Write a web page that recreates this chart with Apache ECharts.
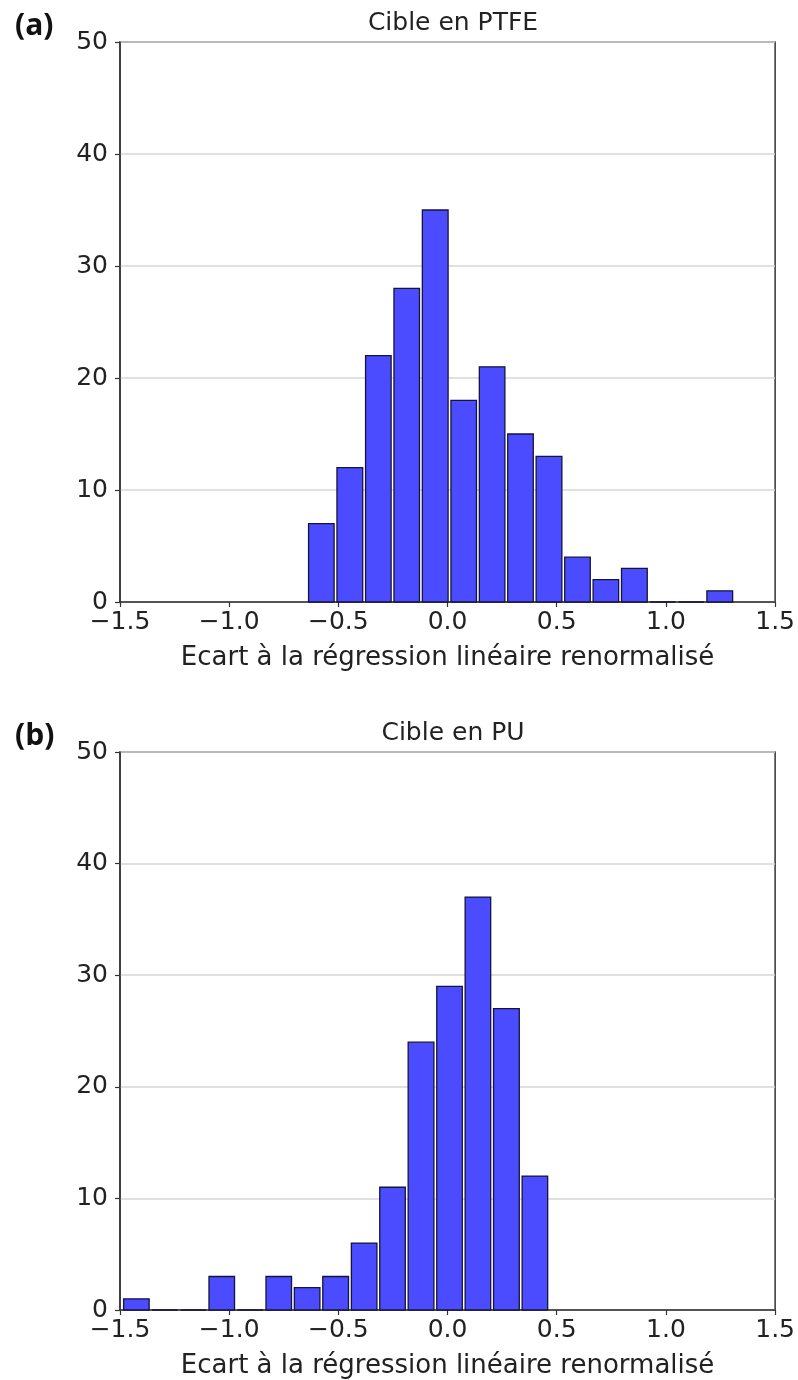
<!DOCTYPE html>
<html>
<head>
<meta charset="utf-8">
<script src="https://cdn.jsdelivr.net/npm/echarts@6/dist/echarts.min.js"></script>
<style>
  html, body { margin: 0; padding: 0; background: #ffffff; }
  #chart { width: 798px; height: 1380px; }
</style>
</head>
<body>
<div id="chart"></div>
<script>
// ---- Data ----
const titleA = 'Cible en PTFE';
const titleB = 'Cible en PU';
const xAxisLabel = 'Ecart à la régression linéaire renormalisé';
const panelLabels = ['(a)', '(b)'];

// histogram bin edges (16 edges -> 15 bins)
const edgesA = [-0.643, -0.513, -0.382, -0.252, -0.122, 0.009, 0.139, 0.269, 0.399, 0.530, 0.660, 0.790, 0.921, 1.051, 1.181, 1.312];
const countsA = [7, 12, 22, 28, 35, 18, 21, 15, 13, 4, 2, 3, 0, 0, 1];

const edgesB = [-1.490, -1.360, -1.229, -1.099, -0.969, -0.838, -0.708, -0.578, -0.447, -0.317, -0.187, -0.056, 0.074, 0.204, 0.335, 0.465];
const countsB = [1, 0, 0, 3, 0, 3, 2, 3, 6, 11, 24, 29, 37, 27, 12];

const xTicks = { min: -1.5, max: 1.5, interval: 0.5 };
const yTicks = { min: 0, max: 50, interval: 10 };

// ---- Build ----
const FONT = 'DejaVu Sans';
const FS = 25;
const RWIDTH = 0.9;

function histData(edges, counts) {
  return counts.map((c, i) => [edges[i], edges[i + 1], c]);
}

function renderBar(params, api) {
  const l = api.value(0), r = api.value(1), c = api.value(2);
  const w = r - l;
  const pad = w * (1 - RWIDTH) / 2;
  const p1 = api.coord([l + pad, c]);
  const p2 = api.coord([r - pad, 0]);
  return {
    type: 'rect',
    shape: { x: p1[0], y: p1[1], width: p2[0] - p1[0], height: p2[1] - p1[1] },
    style: { fill: '#4b4bff', stroke: '#15153a', lineWidth: 1.3 }
  };
}

const fmtX = v => (v < 0 ? '\u2212' : '') + Math.abs(v).toFixed(1);

function xAxisDef(idx) {
  return {
    type: 'value', gridIndex: idx,
    min: xTicks.min, max: xTicks.max, interval: xTicks.interval,
    name: xAxisLabel, nameLocation: 'middle', nameGap: 43,
    nameTextStyle: { fontFamily: FONT, fontSize: 26, color: '#222' },
    axisLine: { show: true, onZero: false, lineStyle: { color: '#333', width: 1.5 } },
    axisTick: { show: true, inside: false, length: 5, lineStyle: { color: '#333', width: 1.2 } },
    axisLabel: { formatter: fmtX, fontFamily: FONT, fontSize: FS, color: '#222', margin: 8 },
    splitLine: { show: false }
  };
}
function yAxisDef(idx) {
  return {
    type: 'value', gridIndex: idx,
    min: yTicks.min, max: yTicks.max, interval: yTicks.interval,
    axisLine: { show: true, onZero: false, lineStyle: { color: '#333', width: 1.5 } },
    axisTick: { show: true, inside: false, length: 5, lineStyle: { color: '#333', width: 1.2 } },
    axisLabel: { fontFamily: FONT, fontSize: FS, color: '#222', margin: 12 },
    splitLine: { show: true, lineStyle: { color: '#d6d6d6', width: 1.5 } }
  };
}

const chart = echarts.init(document.getElementById('chart'), null, { renderer: 'canvas' });
chart.setOption({
  backgroundColor: '#ffffff',
  animation: false,
  title: [
    { text: titleA, left: 448, top: 6, textAlign: 'center',
      textStyle: { fontFamily: FONT, fontSize: FS, fontWeight: 'normal', color: '#222' } },
    { text: titleB, left: 448, top: 716, textAlign: 'center',
      textStyle: { fontFamily: FONT, fontSize: FS, fontWeight: 'normal', color: '#222' } },
    { text: panelLabels[0], left: 10, top: 6,
      textStyle: { fontFamily: 'Open Sans', fontSize: 30, fontWeight: 'bold', color: '#111' } },
    { text: panelLabels[1], left: 10, top: 716,
      textStyle: { fontFamily: 'Open Sans', fontSize: 30, fontWeight: 'bold', color: '#111' } }
  ],
  grid: [
    { left: 120, top: 42, width: 656, height: 560, show: true, borderColor: '#333', borderWidth: 1.5, backgroundColor: 'transparent', containLabel: false },
    { left: 120, top: 752, width: 656, height: 560, show: true, borderColor: '#333', borderWidth: 1.5, backgroundColor: 'transparent', containLabel: false }
  ],
  xAxis: [xAxisDef(0), xAxisDef(1)],
  yAxis: [yAxisDef(0), yAxisDef(1)],
  series: [
    { type: 'custom', xAxisIndex: 0, yAxisIndex: 0, renderItem: renderBar, data: histData(edgesA, countsA), clip: false,
      encode: { x: [0, 1], y: 2 } },
    { type: 'custom', xAxisIndex: 1, yAxisIndex: 1, renderItem: renderBar, data: histData(edgesB, countsB), clip: false,
      encode: { x: [0, 1], y: 2 } }
  ]
});
</script>
</body>
</html>
